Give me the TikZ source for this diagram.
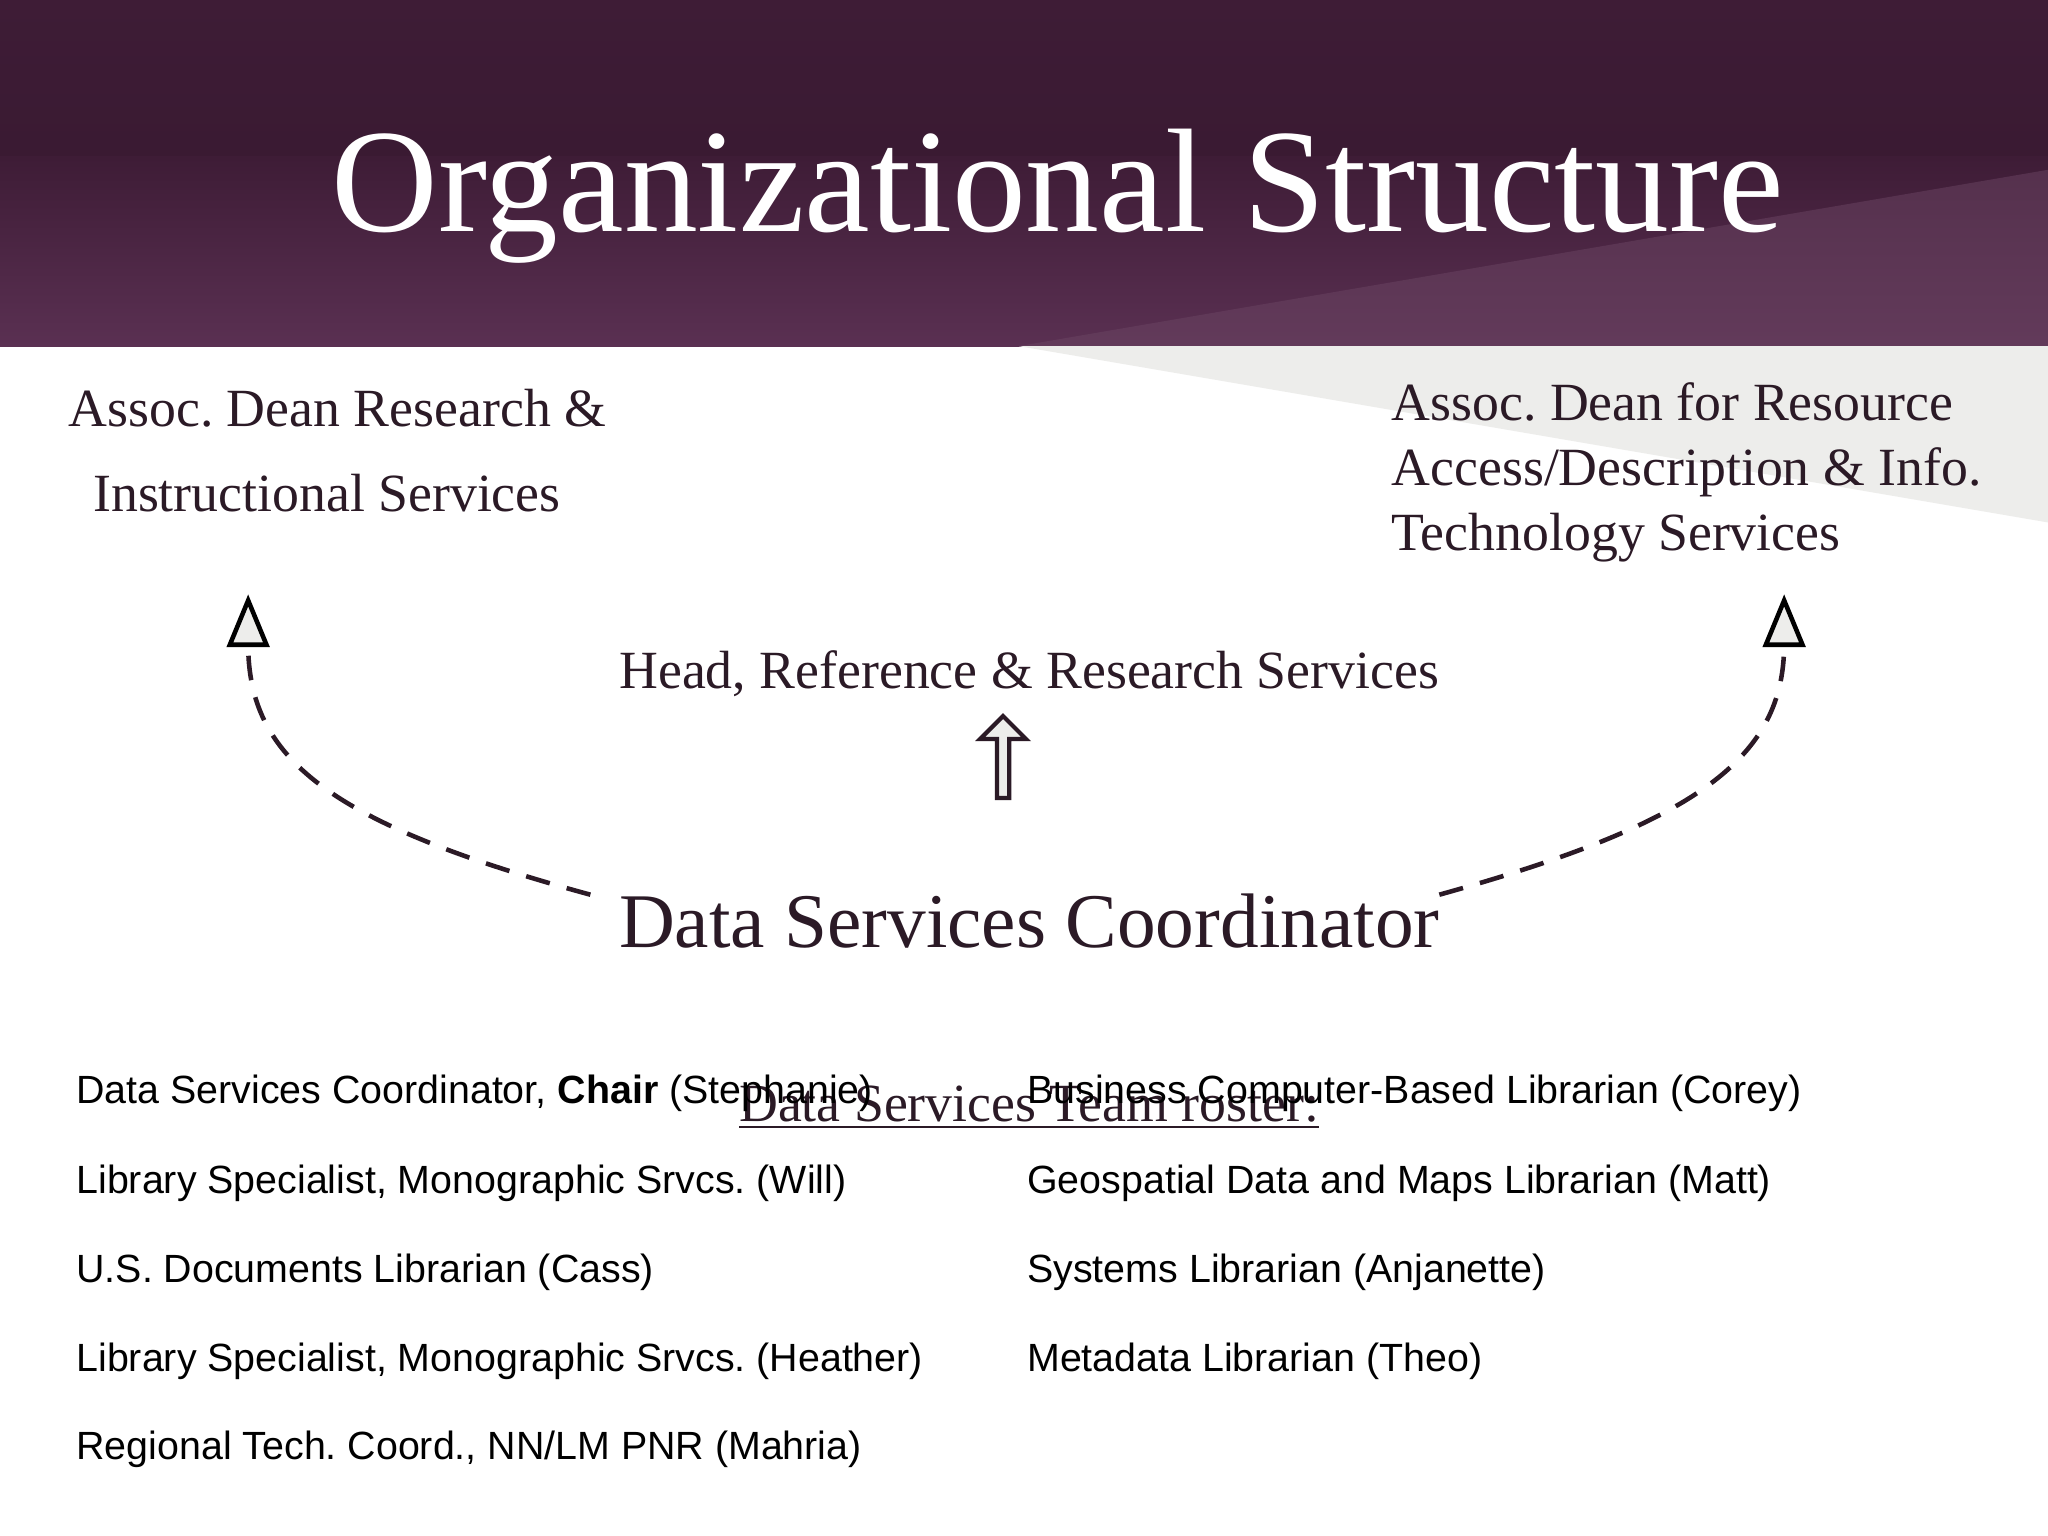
\documentclass[tikz,border=0pt]{standalone}
\usepackage{fontspec}
\setmainfont{Liberation Serif}
\setsansfont{Liberation Sans}
\usetikzlibrary{arrows.meta,shapes.arrows}
\definecolor{plum}{HTML}{3E1C36}
\definecolor{plumlight}{HTML}{5A3052}
\definecolor{wedge}{HTML}{EDEDEB}
\definecolor{ink}{HTML}{2B1A26}
\tikzset{
 serif/.style={font=\fontsize{15.3}{20}\selectfont, text=ink, inner sep=0pt},
 listitem/.style={font=\sffamily\fontsize{11.2}{12}\selectfont, anchor=west, text=black, inner sep=0pt},
 dashline/.style={draw=ink, line width=1.3pt, dash pattern=on 7pt off 5pt},
 headtip/.style={-{Triangle[open, fill=wedge, length=15pt, width=12pt, line width=1.3pt]}}
}
\frenchspacing
\begin{document}
\begin{tikzpicture}[x=0.013061cm,y=-0.013061cm]
\useasboundingbox (0,0) rectangle (1568,1176);
\fill[white] (0,0) rectangle (1568,1176);
\shade[left color=plum, right color=plum!85!black, shading angle=0] (0,0) rectangle (1568,265);
\shade[bottom color=plumlight, top color=plum] (0,120) rectangle (1568,265);
\fill[plumlight!90!white, opacity=0.5] (780,265) -- (1568,130) -- (1568,265) -- cycle;
\fill[wedge] (780,265) -- (1568,265) -- (1568,400) -- cycle;
\node[font=\fontsize{42}{50}\selectfont, text=white, inner sep=0pt] (title) at (810,150) {Organizational Structure};

\node[serif, align=left, anchor=west] (ad1) at (52,345) {Assoc. Dean Research \&\\[4pt]\hspace*{7pt}Instructional Services};
\node[serif, align=left, anchor=west, font=\fontsize{15.3}{18.5}\selectfont] (ad2) at (1065,362) {Assoc. Dean for Resource\\Access/Description \& Info.\\Technology Services};
\node[serif] (head) at (788,516) {Head, Reference \& Research Services};
\node[serif, font=\fontsize{22}{26}\selectfont] (dsc) at (788,705) {Data Services Coordinator};

\coordinate (t1) at (190,455);
\coordinate (t2) at (1366,455);
\draw[dashline] (452,685) .. controls (250,630) and (190,580) .. (190,493);
\draw[dashline] (1102,685) .. controls (1300,630) and (1366,580) .. (1366,493);
\draw[headtip] (190,494) -- (t1);
\draw[headtip] (1366,494) -- (t2);
\node[single arrow, shape border rotate=90, draw=ink, fill=wedge, line width=1.2pt, single arrow head extend=3pt, minimum width=13pt, inner sep=0.5pt, minimum height=0.82cm] (up) at (768,582) {};

\node[serif] (roster) at (788,848) {\underline{Data Services Team roster:}};
\node[listitem] (l1) at (58,837) {Data Services Coordinator, \textbf{Chair} (Stephanie)};
\node[listitem] (l2) at (58,906) {Library Specialist, Monographic Srvcs. (Will)};
\node[listitem] (l3) at (58,974) {U.S. Documents Librarian (Cass)};
\node[listitem] (l4) at (58,1042) {Library Specialist, Monographic Srvcs. (Heather)};
\node[listitem] (l5) at (58,1110) {Regional Tech. Coord., NN/LM PNR (Mahria)};
\node[listitem] (r1) at (786,837) {Business Computer-Based Librarian (Corey)};
\node[listitem] (r2) at (786,906) {Geospatial Data and Maps Librarian (Matt)};
\node[listitem] (r3) at (786,974) {Systems Librarian (Anjanette)};
\node[listitem] (r4) at (786,1042) {Metadata Librarian (Theo)};
\end{tikzpicture}
\end{document}
